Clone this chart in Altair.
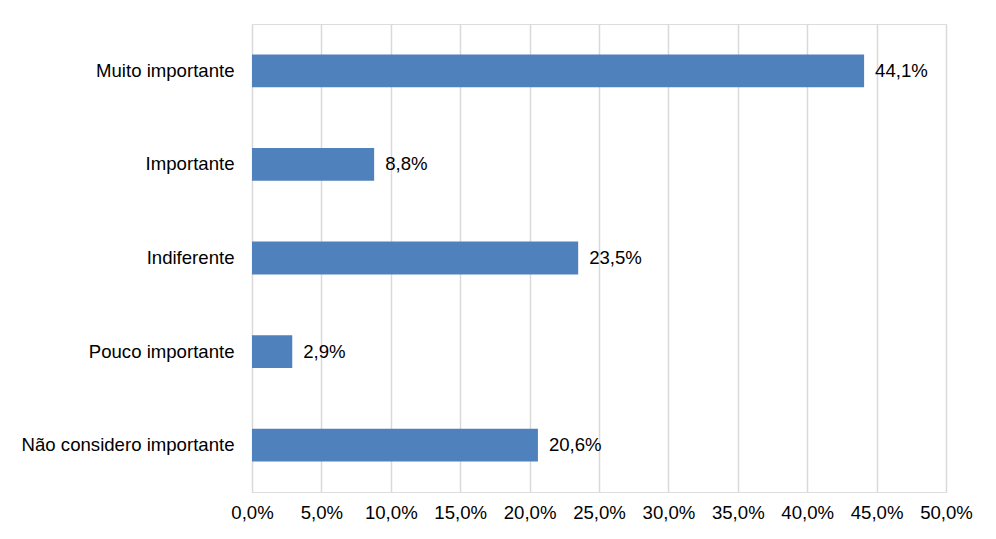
import altair as alt
import pandas as pd

categories = ["Muito importante", "Importante", "Indiferente", "Pouco importante", "Não considero importante"]
values = [44.1, 8.8, 23.5, 2.9, 20.6]
ticks = [0, 5, 10, 15, 20, 25, 30, 35, 40, 45, 50]

df = pd.DataFrame({
    "cat": categories,
    "val": values,
    "label": [f"{v:.1f}%".replace(".", ",") for v in values],
})

FONT = "Liberation Sans"
FS = 18.6

y = alt.Y("cat:N", sort=categories, title=None,
          scale=alt.Scale(paddingInner=0.65, paddingOuter=0.325),
          axis=alt.Axis(ticks=False, domain=False, labelFontSize=FS, labelFont=FONT,
                        labelColor="#000000", labelPadding=18, labelLimit=400, grid=False))
x = alt.X("val:Q", title=None,
          scale=alt.Scale(domain=[0, 50], nice=False),
          axis=alt.Axis(values=ticks, ticks=False, domain=False, grid=True,
                        gridColor="#d9d9d9", gridWidth=1.5,
                        labelFontSize=FS, labelFont=FONT, labelColor="#000000",
                        labelPadding=11, labelOverlap=False, labelFlush=False,
                        labelExpr="replace(format(datum.value, '.1f'), '.', ',') + '%'"))

bars = alt.Chart(df).mark_bar(color="#4f81bd").encode(x=x, y=y)
texts = alt.Chart(df).mark_text(align="left", baseline="middle", dx=11, fontSize=FS,
                                font=FONT, color="#000000").encode(
    x=alt.X("val:Q"), y=alt.Y("cat:N", sort=categories), text="label:N")

chart = (bars + texts).properties(
    width=694, height=468,
    autosize=alt.AutoSizeParams(type="none"),
    padding={"left": 244, "top": 16, "right": 40, "bottom": 36},
).configure_view(strokeWidth=0).configure(background="white")

chart.save("out.html", embed_options={"renderer": "svg", "actions": False})
